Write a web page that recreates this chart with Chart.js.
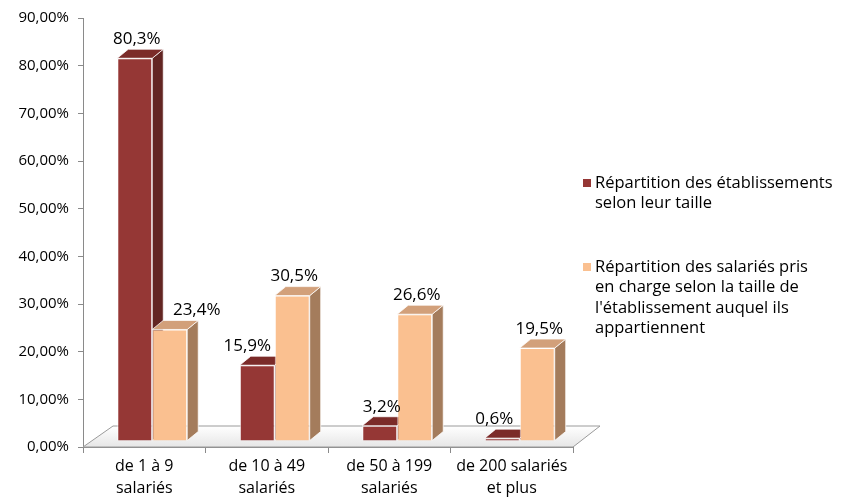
<!DOCTYPE html>
<html>
<head>
<meta charset="utf-8">
<script src="https://cdn.jsdelivr.net/npm/chart.js@4"></script>
<style>
  html, body { margin: 0; padding: 0; background: #fff; }
  #wrap { width: 845px; height: 499px; }
</style>
</head>
<body>
<div id="wrap"><canvas id="chart" width="845" height="499"></canvas></div>
<script>
// data
const categories = [
  ['de 1 à 9', 'salariés'],
  ['de 10 à 49', 'salariés'],
  ['de 50 à 199', 'salariés'],
  ['de 200 salariés', 'et plus']
];
const etablissements = [80.3, 15.9, 3.2, 0.6];
const salaries = [23.4, 30.5, 26.6, 19.5];
const legendEtab = ['Répartition des établissements', 'selon leur taille'];
const legendSal = ['Répartition des salariés pris', 'en charge selon la taille de', "l'établissement auquel ils", 'appartiennent'];

const FONT = '"Open Sans", "DejaVu Sans", sans-serif';
const SHIFT = { x: 8, y: -6 };     // bars sit a bit inside the 3D floor
const DEPTH = { x: 11, y: -9 };    // bar depth
const faces = [
  { front: '#953735', side: '#632523', top: '#7b2b29' },
  { front: '#fac090', side: '#a47c5c', top: '#d2a07a' }
];

function fmt(v) { return v.toFixed(1).replace('.', ',') + '%'; }

function drawFaces(chart, i) {
  const ctx = chart.ctx;
  const c = faces[i];
  ctx.save();
  ctx.translate(SHIFT.x, SHIFT.y);
  ctx.lineWidth = 1;
  ctx.strokeStyle = 'rgba(255,255,255,0.75)';
  chart.getDatasetMeta(i).data.forEach(bar => {
    const l = bar.x - bar.width / 2, r = bar.x + bar.width / 2;
    const t = bar.y, b = bar.base;
    // side
    ctx.beginPath();
    ctx.moveTo(r, t); ctx.lineTo(r + DEPTH.x, t + DEPTH.y);
    ctx.lineTo(r + DEPTH.x, b + DEPTH.y); ctx.lineTo(r, b);
    ctx.closePath();
    ctx.fillStyle = c.side; ctx.fill(); ctx.stroke();
    // top
    ctx.beginPath();
    ctx.moveTo(l, t); ctx.lineTo(l + DEPTH.x, t + DEPTH.y);
    ctx.lineTo(r + DEPTH.x, t + DEPTH.y); ctx.lineTo(r, t);
    ctx.closePath();
    ctx.fillStyle = c.top; ctx.fill(); ctx.stroke();
  });
  ctx.restore();
}

// fake 3D: floor, bar sides and tops, value labels, legend
const threeD = {
  id: 'threeD',
  beforeDatasetsDraw(chart) {
    const { ctx, chartArea: a } = chart;
    ctx.save();
    ctx.beginPath();
    ctx.moveTo(a.left, a.bottom);
    ctx.lineTo(a.right, a.bottom);
    ctx.lineTo(a.right + 27, a.bottom - 21);
    ctx.lineTo(a.left + 30, a.bottom - 21);
    ctx.closePath();
    const g = ctx.createLinearGradient(0, a.bottom - 21, 0, a.bottom);
    g.addColorStop(0, '#ffffff');
    g.addColorStop(1, '#e6e6e6');
    ctx.fillStyle = g;
    ctx.fill();
    ctx.strokeStyle = '#9a9a9a';
    ctx.lineWidth = 1;
    ctx.stroke();
    ctx.restore();
    // dark bars' sides go under the light bars' fronts
    drawFaces(chart, 0);
  },
  beforeDatasetDraw(chart) {
    chart.ctx.save();
    chart.ctx.translate(SHIFT.x, SHIFT.y);
  },
  afterDatasetDraw(chart, args) {
    chart.ctx.restore();
    if (args.index === 1) drawFaces(chart, 1);
  },
  afterDatasetsDraw(chart) {
    const ctx = chart.ctx;
    ctx.save();
    ctx.font = '17px ' + FONT;
    ctx.fillStyle = '#000';
    ctx.textAlign = 'center';
    ctx.textBaseline = 'middle';
    chart.data.datasets.forEach((ds, i) => {
      chart.getDatasetMeta(i).data.forEach((bar, j) => {
        let dx = 2;
        if (i === 1 && j === 0) dx = 27;   // label pushed aside by the tall bar
        if (i === 0 && j === 3) dx = -8;
        if (i === 0 && j === 1) dx = -10;
        ctx.fillText(fmt(ds.data[j]), bar.x + SHIFT.x + dx, bar.y + SHIFT.y - 19);
      });
    });
    // legend
    ctx.textAlign = 'left';
    ctx.font = '16.5px ' + FONT;
    const blocks = [[legendEtab, 183], [legendSal, 267]];
    blocks.forEach(([lines, y0], i) => {
      ctx.fillStyle = faces[i].front;
      ctx.fillRect(583, y0 - 4, 8, 8);
      ctx.fillStyle = '#000';
      lines.forEach((s, k) => ctx.fillText(s, 595, y0 + k * 20.5));
    });
    ctx.restore();
  }
};

new Chart(document.getElementById('chart'), {
  type: 'bar',
  data: {
    labels: categories,
    datasets: [
      { label: legendEtab.join(' '), data: etablissements, backgroundColor: faces[0].front,
        borderColor: 'rgba(255,255,255,0.75)', borderWidth: 1 },
      { label: legendSal.join(' '), data: salaries, backgroundColor: faces[1].front,
        borderColor: 'rgba(255,255,255,0.75)', borderWidth: 1 }
    ]
  },
  options: {
    responsive: false,
    animation: false,
    layout: { padding: { top: 18, right: 272, left: 0, bottom: 0 } },
    datasets: { bar: { categoryPercentage: 0.571, barPercentage: 1 } },
    plugins: { legend: { display: false }, tooltip: { enabled: false } },
    scales: {
      x: {
        grid: { drawOnChartArea: false, tickLength: 6, color: '#8a8a8a' },
        border: { color: '#8a8a8a' },
        ticks: { color: '#000', font: { family: FONT, size: 16, lineHeight: 1.35 }, padding: 3, maxRotation: 0 },
        afterFit(s) { s.height = 52; }
      },
      y: {
        min: 0, max: 90,
        grid: { drawOnChartArea: false, tickLength: 5, color: '#8a8a8a' },
        border: { color: '#8a8a8a' },
        ticks: { stepSize: 10, color: '#000', font: { family: FONT, size: 15 }, padding: 9,
          callback: v => v.toFixed(2).replace('.', ',') + '%' },
        afterFit(s) { s.width = 83; }
      }
    }
  },
  plugins: [threeD]
});
</script>
</body>
</html>
